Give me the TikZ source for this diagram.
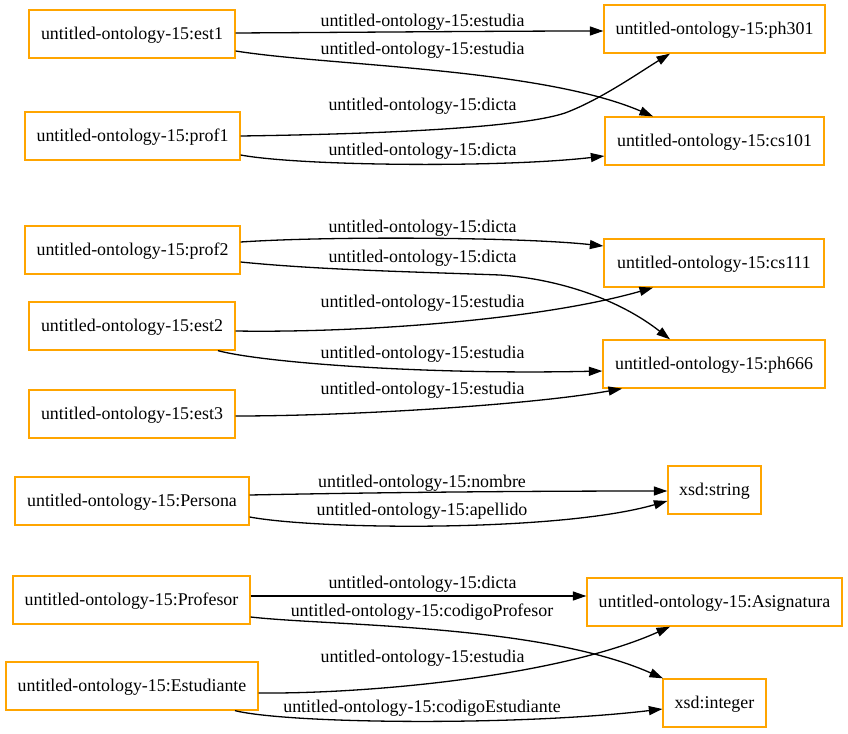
\documentclass[tikz,border=0pt]{standalone}
\usepackage{fontspec}
\setmainfont{Liberation Serif}
\usetikzlibrary{arrows.meta}
\definecolor{boxorange}{HTML}{FFA500}
\tikzset{
  box/.style={draw=boxorange, line width=1.3pt, minimum height=48pt, inner xsep=2pt, inner ysep=0pt,
              font=\fontsize{17.9}{20}\selectfont, text height=12.4pt, text depth=1.8pt},
  lbl/.style={inner sep=0pt, font=\fontsize{17.9}{20}\selectfont, text height=12.4pt, text depth=1.8pt},
  edge/.style={draw=black, line width=1.3pt, -{Triangle[length=13.5pt, width=9pt]}}
}
\begin{document}
\begin{tikzpicture}[x=1pt,y=-1pt]
\useasboundingbox[fill=white] (0,0) rectangle (848,733);
% nodes
\node[box, minimum width=206pt] (est1) at (132,34) {untitled-ontology-15:est1};
\node[box, minimum width=215pt] (prof1) at (132.5,136) {untitled-ontology-15:prof1};
\node[box, minimum width=221pt] (ph301) at (714.5,29) {untitled-ontology-15:ph301};
\node[box, minimum width=219pt] (cs101) at (714.5,141) {untitled-ontology-15:cs101};
\node[box, minimum width=215pt] (prof2) at (132.5,250) {untitled-ontology-15:prof2};
\node[box, minimum width=220pt] (cs111) at (714,263) {untitled-ontology-15:cs111};
\node[box, minimum width=206pt] (est2) at (132,326) {untitled-ontology-15:est2};
\node[box, minimum width=222pt] (ph666) at (714,364) {untitled-ontology-15:ph666};
\node[box, minimum width=206pt] (est3) at (132,414) {untitled-ontology-15:est3};
\node[box, minimum width=234pt] (persona) at (132,501) {untitled-ontology-15:Persona};
\node[box, minimum width=93pt] (string) at (714.5,490) {xsd:string};
\node[box, minimum width=237pt] (profesor) at (131.5,600) {untitled-ontology-15:Profesor};
\node[box, minimum width=255pt] (asig) at (714.5,602) {untitled-ontology-15:Asignatura};
\node[box, minimum width=252pt] (estud) at (132,686) {untitled-ontology-15:Estudiante};
\node[box, minimum width=103pt] (integer) at (714.5,703) {xsd:integer};
% edges
\draw[edge] ([yshift=1pt]est1.east) .. controls (400,32) and (520,31) .. ([yshift=-2pt]ph301.west);
\draw[edge] ([yshift=-17pt]est1.east) .. controls (330,66) and (540,68) .. ([xshift=-61.5pt]cs101.north);
\draw[edge] (prof1.east) .. controls (380,134) and (520,128) .. (565,113) .. controls (600,100) and (640,72) .. ([xshift=-44.5pt]ph301.south);
\draw[edge] ([yshift=-19pt]prof1.east) .. controls (300,166) and (500,168) .. ([yshift=-15pt]cs101.west);
\draw[edge] ([yshift=8pt]prof2.east) .. controls (330,236) and (520,237) .. ([yshift=17pt]cs111.west);
\draw[edge] ([yshift=-12pt]prof2.east) .. controls (320,270) and (420,272) .. (500,275) .. controls (560,279) and (620,300) .. ([xshift=-44pt]ph666.north);
\draw[edge] ([yshift=-5pt]est2.east) .. controls (360,333) and (540,320) .. ([xshift=-61pt]cs111.south);
\draw[edge] ([xshift=86pt]est2.south) .. controls (260,362) and (420,375) .. ([yshift=-7pt]ph666.west);
\draw[edge] ([yshift=-2pt]est3.east) .. controls (350,416) and (530,405) .. ([xshift=-92pt]ph666.south);
\draw[edge] ([yshift=6pt]persona.east) .. controls (400,492) and (550,491) .. ([yshift=-1pt]string.west);
\draw[edge] ([yshift=-16pt]persona.east) .. controls (320,530) and (560,532) .. ([yshift=-11pt]string.west);
\draw[edge] ([yshift=4pt]profesor.east) .. controls (370,596) and (480,596) .. ([yshift=6pt]asig.west);
\draw[edge] ([yshift=-17pt]profesor.east) .. controls (330,626) and (540,624) .. ([xshift=-51.5pt]integer.north);
\draw[edge] ([yshift=-7pt]estud.east) .. controls (370,694) and (560,676) .. ([xshift=-44.5pt]asig.south);
\draw[edge] ([xshift=103pt]estud.south) .. controls (290,724) and (520,726) .. ([yshift=-6pt]integer.west);
% labels
\node[lbl] (l1) at (422.5,21.7) {untitled-ontology-15:estudia};
\node[lbl] (l2) at (422.5,49.3) {untitled-ontology-15:estudia};
\node[lbl] (l3) at (422.5,105) {untitled-ontology-15:dicta};
\node[lbl] (l4) at (422.5,150) {untitled-ontology-15:dicta};
\node[lbl] (l5) at (422.5,226.7) {untitled-ontology-15:dicta};
\node[lbl] (l6) at (422.5,256.7) {untitled-ontology-15:dicta};
\node[lbl] (l7) at (422.5,301.7) {untitled-ontology-15:estudia};
\node[lbl] (l8) at (422.5,352.7) {untitled-ontology-15:estudia};
\node[lbl] (l9) at (422.5,389.3) {untitled-ontology-15:estudia};
\node[lbl] (l10) at (422,482.3) {untitled-ontology-15:nombre};
\node[lbl] (l11) at (422,510) {untitled-ontology-15:apellido};
\node[lbl] (l12) at (422.5,583.3) {untitled-ontology-15:dicta};
\node[lbl] (l13) at (422,610.7) {untitled-ontology-15:codigoProfesor};
\node[lbl] (l14) at (422.5,656.7) {untitled-ontology-15:estudia};
\node[lbl] (l15) at (422,706.7) {untitled-ontology-15:codigoEstudiante};
\end{tikzpicture}
\end{document}
